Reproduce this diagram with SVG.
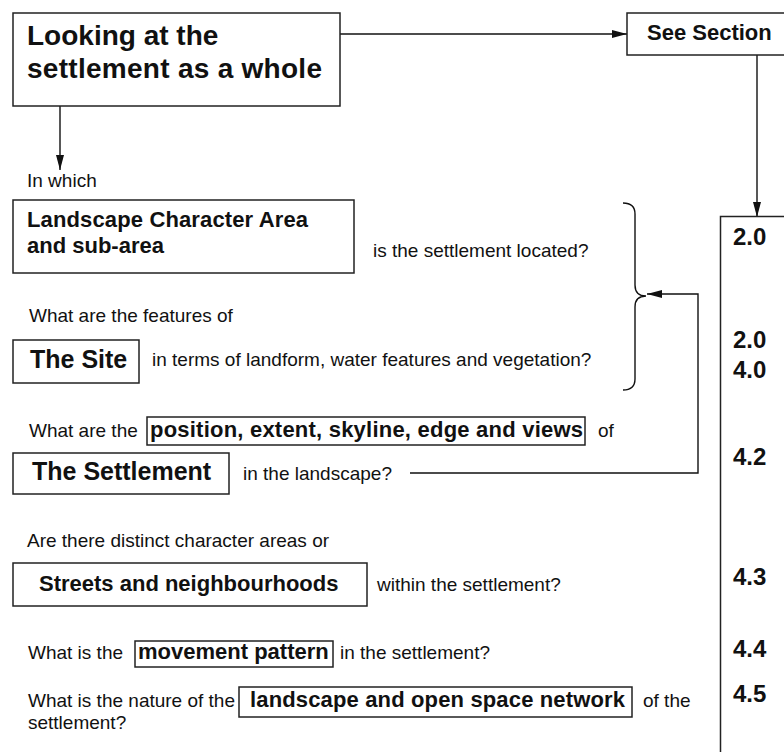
<svg xmlns="http://www.w3.org/2000/svg" width="784" height="752" viewBox="0 0 784 752">
<defs>
<style>
text{font-family:"Liberation Sans",Arial,Helvetica,sans-serif;fill:#111}
.b{font-weight:bold}
.s{font-size:19px}
.lbl{font-size:22px;font-weight:bold}
.num{font-size:24px;font-weight:bold}
.box{fill:#fff;stroke:#222;stroke-width:1.5}
.con{fill:none;stroke:#111;stroke-width:1.4}
</style>
<marker id="ah" viewBox="0 0 15 8" refX="15" refY="4" markerWidth="15" markerHeight="8" markerUnits="userSpaceOnUse" orient="auto">
<path d="M0,0 L15,4 L0,8 z" fill="#111"/>
</marker>
</defs>
<rect width="784" height="752" fill="#fff"/>

<g id="connectors">
<line class="con" x1="340" y1="34" x2="627" y2="34" marker-end="url(#ah)"/>
<line class="con" x1="60" y1="106" x2="60" y2="170" marker-end="url(#ah)"/>
<line class="con" x1="757" y1="55" x2="757" y2="217" marker-end="url(#ah)"/>
<path class="con" d="M623,203 Q635,203 635,214 L635,285 Q635,296 646,296 Q635,296 635,307 L635,379 Q635,390 623,390"/>
<polyline class="con" points="410,473 698,473 698,294 647,294" marker-end="url(#ah)"/>
</g>

<g id="n-title">
<rect class="box" x="13" y="13" width="327" height="93"/>
<text class="b" x="27" y="45" font-size="28">Looking at the</text>
<text class="b" x="27" y="78" font-size="28" textLength="295">settlement as a whole</text>
</g>

<g id="n-seesection">
<rect class="box" x="627" y="13" width="200" height="42"/>
<text class="b" x="647" y="40" font-size="22">See Section</text>
</g>

<g id="n-sections">
<rect class="box" x="720.5" y="216.5" width="120" height="600"/>
<text class="num" x="733" y="245">2.0</text>
<text class="num" x="733" y="348">2.0</text>
<text class="num" x="733" y="378">4.0</text>
<text class="num" x="733" y="465">4.2</text>
<text class="num" x="733" y="585">4.3</text>
<text class="num" x="733" y="657">4.4</text>
<text class="num" x="733" y="702">4.5</text>
</g>

<g id="t-inwhich">
<text class="s" x="27" y="187">In which</text>
</g>

<g id="n-lca">
<rect class="box" x="13" y="200" width="341" height="73"/>
<text class="lbl" x="27" y="227" textLength="281">Landscape Character Area</text>
<text class="lbl" x="27" y="253">and sub-area</text>
<text class="s" x="373" y="257">is the settlement located?</text>
</g>

<g id="n-site">
<text class="s" x="29" y="322">What are the features of</text>
<rect class="box" x="13" y="340" width="126" height="43"/>
<text class="b" x="30" y="368" font-size="25">The Site</text>
<text class="s" x="152" y="366">in terms of landform, water features and vegetation?</text>
</g>

<g id="n-position">
<text class="s" x="29" y="437">What are the</text>
<rect class="box" x="147" y="417" width="438" height="28"/>
<text class="lbl" x="150" y="437" textLength="433">position, extent, skyline, edge and views</text>
<text class="s" x="598" y="437">of</text>
</g>

<g id="n-settlement">
<rect class="box" x="13" y="453" width="216" height="41"/>
<text class="b" x="32" y="480" font-size="25">The Settlement</text>
<text class="s" x="243" y="480">in the landscape?</text>
</g>

<g id="n-streets">
<text class="s" x="27" y="547">Are there distinct character areas or</text>
<rect class="box" x="13" y="563" width="354" height="43"/>
<text class="lbl" x="39" y="591">Streets and neighbourhoods</text>
<text class="s" x="377" y="591">within the settlement?</text>
</g>

<g id="n-movement">
<text class="s" x="28" y="659">What is the</text>
<rect class="box" x="135" y="641" width="198" height="26"/>
<text class="lbl" x="138" y="659">movement pattern</text>
<text class="s" x="340" y="659">in the settlement?</text>
</g>

<g id="n-openspace">
<text class="s" x="28" y="707">What is the nature of the</text>
<rect class="box" x="239" y="687" width="393" height="30"/>
<text class="lbl" x="250" y="707" textLength="375">landscape and open space network</text>
<text class="s" x="643" y="707">of the</text>
<text class="s" x="28" y="729">settlement?</text>
</g>
</svg>
